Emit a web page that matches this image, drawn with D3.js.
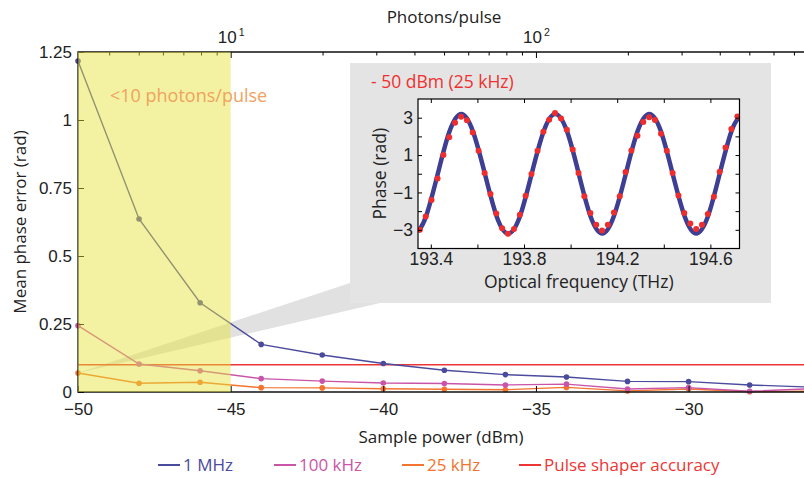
<!DOCTYPE html>
<html>
<head>
<meta charset="utf-8">
<script src="https://cdn.jsdelivr.net/npm/d3@7"></script>
<style>
  body { margin: 0; background: #fff; }
  svg { display: block; font-family: "Open Sans", sans-serif; }
</style>
</head>
<body>
<div id="chart"></div>
<script>
// main plot: mean phase error vs sample power
var power = [-50, -48, -46, -44, -42, -40, -38, -36, -34, -32, -30, -28, -26];
var err1MHz = [1.217, 0.636, 0.328, 0.175, 0.136, 0.105, 0.080, 0.064, 0.055, 0.039, 0.038, 0.026, 0.018];
var err100kHz = [0.244, 0.103, 0.078, 0.049, 0.040, 0.033, 0.031, 0.026, 0.029, 0.011, 0.016, 0.003, 0.012];
var err25kHz = [0.070, 0.032, 0.036, 0.016, 0.015, 0.012, 0.010, 0.0085, 0.017, 0.004, 0.011, 0.001, 0.003];
var shaperPower = [-50, -26];
var shaperErr = [0.1, 0.1];

var yTicks = [0, 0.25, 0.5, 0.75, 1, 1.25];
var xTicks = [-50, -45, -40, -35, -30];
var photonMajor = [10, 100];
var photonMinor = [4, 5, 6, 7, 8, 9, 20, 30, 40, 50, 60, 70, 80, 90, 200, 300, 400, 500, 600, 700];

var seriesNames = ["1 MHz", "100 kHz", "25 kHz", "Pulse shaper accuracy"];
var seriesColors = ["#4b4b9d", "#c955a8", "#f2742e", "#ee3535"];

// inset: phase vs optical frequency at -50 dBm (25 kHz)
var dotFreq = [193.353, 193.378, 193.403, 193.429, 193.454, 193.479, 193.504, 193.530, 193.555, 193.580,
  193.605, 193.631, 193.656, 193.681, 193.706, 193.731, 193.757, 193.782, 193.807, 193.832,
  193.858, 193.883, 193.908, 193.933, 193.959, 193.984, 194.009, 194.034, 194.059, 194.085,
  194.110, 194.135, 194.160, 194.186, 194.211, 194.236, 194.261, 194.287, 194.312, 194.337,
  194.362, 194.388, 194.413, 194.438, 194.463, 194.488, 194.514, 194.539, 194.564, 194.589,
  194.615, 194.640, 194.665, 194.690, 194.716];
var dotPhase = [-3.0, -2.29, -1.41, -0.25, 1.0, 1.95, 2.73, 3.05, 2.86, 2.21,
  1.23, 0.04, -1.09, -2.13, -2.91, -3.21, -2.95, -2.2, -1.18, -0.02,
  1.23, 2.25, 2.89, 3.25, 2.95, 2.36, 1.3, 0.04, -1.21, -2.1,
  -2.73, -3.04, -2.73, -2.07, -1.21, 0.09, 1.25, 2.04, 2.77, 3.02,
  2.88, 2.14, 1.23, 0.04, -1.16, -2.1, -2.66, -2.96, -2.73, -2.16,
  -1.23, 0.11, 1.41, 2.39, 3.07];
var fitFreq = [193.345, 193.380, 193.430, 193.480, 193.531, 193.581, 193.632, 193.682, 193.732, 193.783,
  193.833, 193.884, 193.934, 193.985, 194.035, 194.085, 194.136, 194.186, 194.237, 194.287,
  194.338, 194.388, 194.438, 194.489, 194.539, 194.590, 194.640, 194.690, 194.725];
var fitPhase = [-3.10, -2.26, 0, 2.26, 3.2, 2.26, 0, -2.26, -3.2, -2.26,
  0, 2.26, 3.2, 2.26, 0, -2.26, -3.2, -2.26, 0, 2.26,
  3.2, 2.26, 0, -2.26, -3.2, -2.26, 0, 2.26, 3.05];
var insetXTicks = [193.4, 193.6, 193.8, 194.0, 194.2, 194.4, 194.6];
var insetXLabels = [193.4, 193.8, 194.2, 194.6];
var insetYTicks = [-3, -2, -1, 0, 1, 2, 3];
var insetYLabels = [-3, -1, 1, 3];

var width = 804, height = 478;
var svg = d3.select("#chart").append("svg")
  .attr("width", width)
  .attr("height", height);

var x = d3.scaleLinear().domain([-50, -26]).range([78, 810.7]);
var y = d3.scaleLinear().domain([0, 1.25]).range([392, 52]);
// photons/pulse = 10^((P + 55) / 10)
var xTop = d3.scaleLog()
  .domain([Math.pow(10, (-50 + 55) / 10), Math.pow(10, (-26 + 55) / 10)])
  .range(x.range());

function minus(v) {
  return v < 0 ? "\u2212" + Math.abs(v) : String(v);
}

// grey inset panel and zoom wedge
var panel = { x0: 350, y0: 63, x1: 771, y1: 303 };
var tipX = x(power[0]), tipY = y(err25kHz[0]);
svg.append("path")
  .attr("d", "M" + tipX + "," + tipY + "L" + panel.x0 + "," + (panel.y1 - 20) +
    "L" + panel.x0 + "," + panel.y1 + "L" + (panel.x0 + 30) + "," + panel.y1 + "Z")
  .attr("fill", "#e1e1e1");
svg.append("rect")
  .attr("x", panel.x0).attr("y", panel.y0)
  .attr("width", panel.x1 - panel.x0).attr("height", panel.y1 - panel.y0)
  .attr("fill", "#e4e4e4");

svg.append("text")
  .attr("x", 371).attr("y", 88)
  .attr("fill", "#ee3030")
  .style("font-size", "17.5px")
  .text("- 50 dBm (25 kHz)");

// inset plot
var ix = d3.scaleLinear().domain([193.345, 194.725]).range([418, 739.5]);
var iy = d3.scaleLinear().domain([-4, 4]).range([248.5, 99]);

svg.append("rect")
  .attr("x", ix.range()[0]).attr("y", iy.range()[1])
  .attr("width", ix.range()[1] - ix.range()[0])
  .attr("height", iy.range()[0] - iy.range()[1])
  .attr("fill", "#fff");

svg.append("clipPath").attr("id", "insetClip")
  .append("rect")
  .attr("x", ix.range()[0]).attr("y", iy.range()[1])
  .attr("width", ix.range()[1] - ix.range()[0])
  .attr("height", iy.range()[0] - iy.range()[1]);

var inset = svg.append("g").attr("clip-path", "url(#insetClip)");

var fitLine = d3.line()
  .x((d, i) => ix(fitFreq[i]))
  .y((d) => iy(d))
  .curve(d3.curveNatural);

inset.append("path")
  .datum(fitPhase)
  .attr("d", fitLine)
  .attr("fill", "none")
  .attr("stroke", "#3e3e93")
  .attr("stroke-width", 4.5);

inset.selectAll(".pdot")
  .data(dotPhase)
  .enter()
  .append("circle")
  .attr("class", "pdot")
  .attr("cx", (d, i) => ix(dotFreq[i]))
  .attr("cy", (d) => iy(d))
  .attr("r", 3)
  .attr("fill", "#ee2e2e");

function styleAxis(g, size) {
  g.select(".domain").remove();
  g.selectAll("line").attr("stroke", "#000");
  g.selectAll("text").attr("fill", "#222").style("font-size", size + "px").attr("font-family", null);
}

svg.append("g")
  .attr("transform", "translate(0," + iy.range()[0] + ")")
  .call(d3.axisBottom(ix).tickValues(insetXTicks).tickSize(-4).tickPadding(4)
    .tickFormat((d) => insetXLabels.indexOf(d) >= 0 ? d.toFixed(1) : ""))
  .call((g) => styleAxis(g, 17.5));
svg.append("g")
  .attr("transform", "translate(0," + iy.range()[1] + ")")
  .call(d3.axisTop(ix).tickValues(insetXTicks).tickSize(-4).tickFormat(""))
  .call((g) => styleAxis(g, 17));
svg.append("g")
  .attr("transform", "translate(" + ix.range()[0] + ",0)")
  .call(d3.axisLeft(iy).tickValues(insetYTicks).tickSize(-4).tickPadding(5)
    .tickFormat((d) => insetYLabels.indexOf(d) >= 0 ? minus(d) : ""))
  .call((g) => styleAxis(g, 17.5));
svg.append("g")
  .attr("transform", "translate(" + ix.range()[1] + ",0)")
  .call(d3.axisRight(iy).tickValues(insetYTicks).tickSize(-4).tickFormat(""))
  .call((g) => styleAxis(g, 17));

svg.append("rect")
  .attr("x", ix.range()[0]).attr("y", iy.range()[1])
  .attr("width", ix.range()[1] - ix.range()[0])
  .attr("height", iy.range()[0] - iy.range()[1])
  .attr("fill", "none")
  .attr("stroke", "#000")
  .attr("stroke-width", 1.2);

svg.append("text")
  .attr("transform", "translate(386," + ((iy.range()[0] + iy.range()[1]) / 2) + ") rotate(-90)")
  .attr("text-anchor", "middle")
  .attr("fill", "#222")
  .style("font-size", "17.5px")
  .text("Phase (rad)");

svg.append("text")
  .attr("x", (ix.range()[0] + ix.range()[1]) / 2)
  .attr("y", 288)
  .attr("text-anchor", "middle")
  .attr("fill", "#222")
  .style("font-size", "17.5px")
  .text("Optical frequency (THz)");

// main series
var mainLine = d3.line()
  .x((d, i) => x(power[i]))
  .y((d) => y(d));

var series = [err1MHz, err100kHz, err25kHz];

svg.append("path")
  .datum(shaperErr)
  .attr("d", d3.line().x((d, i) => x(shaperPower[i])).y((d) => y(d)))
  .attr("fill", "none")
  .attr("stroke", seriesColors[3])
  .attr("stroke-width", 1.4);

series.slice().reverse().forEach(function (vals, k) {
  var col = seriesColors[series.length - 1 - k];
  svg.append("path")
    .datum(vals)
    .attr("d", mainLine)
    .attr("fill", "none")
    .attr("stroke", col)
    .attr("stroke-width", 1.4);
  svg.selectAll(null)
    .data(vals)
    .enter()
    .append("circle")
    .attr("cx", (d, i) => x(power[i]))
    .attr("cy", (d) => y(d))
    .attr("r", 2.8)
    .attr("fill", col);
});

// main axes (ticks inward, box)
svg.append("g")
  .attr("transform", "translate(" + x.range()[0] + ",0)")
  .call(d3.axisLeft(y).tickValues(yTicks).tickSize(-6).tickPadding(6).tickFormat((d) => String(d)))
  .call((g) => styleAxis(g, 17));
svg.append("g")
  .attr("transform", "translate(" + x.range()[1] + ",0)")
  .call(d3.axisRight(y).tickValues(yTicks).tickSize(-6).tickFormat(""))
  .call((g) => styleAxis(g, 17));
svg.append("g")
  .attr("transform", "translate(0," + y.range()[0] + ")")
  .call(d3.axisBottom(x).tickValues(xTicks).tickSize(-6).tickPadding(11).tickFormat(minus))
  .call((g) => styleAxis(g, 17));
svg.append("g")
  .attr("transform", "translate(0," + y.range()[1] + ")")
  .call(d3.axisTop(xTop).tickValues(photonMinor).tickSize(-3.5).tickFormat(""))
  .call((g) => styleAxis(g, 17));
var topMajor = svg.append("g")
  .attr("transform", "translate(0," + y.range()[1] + ")")
  .call(d3.axisTop(xTop).tickValues(photonMajor).tickSize(-6).tickPadding(7).tickFormat(""))
  .call((g) => styleAxis(g, 17));
topMajor.selectAll(".tick")
  .append("text")
  .attr("y", -9)
  .attr("text-anchor", "middle")
  .attr("fill", "#222")
  .style("font-size", "17px")
  .text("10")
  .append("tspan")
  .attr("dy", "-0.65em")
  .attr("dx", "2")
  .style("font-size", "10.5px")
  .text((d) => Math.round(Math.log10(d)));

svg.append("path")
  .attr("d", "M" + x.range()[0] + "," + y.range()[0] + "V" + y.range()[1] + "H" + x.range()[1] +
    "V" + y.range()[0] + "Z")
  .attr("fill", "none")
  .attr("stroke", "#111")
  .attr("stroke-width", 1.3);

// axis titles
svg.append("text")
  .attr("x", (x(-50) + 804) / 2).attr("y", 443)
  .attr("text-anchor", "middle")
  .attr("fill", "#222")
  .style("font-size", "17px")
  .text("Sample power (dBm)");
svg.append("text")
  .attr("x", 444).attr("y", 23)
  .attr("text-anchor", "middle")
  .attr("fill", "#222")
  .style("font-size", "17px")
  .text("Photons/pulse");
svg.append("text")
  .attr("transform", "translate(26," + ((y.range()[0] + y.range()[1]) / 2) + ") rotate(-90)")
  .attr("text-anchor", "middle")
  .attr("fill", "#222")
  .style("font-size", "17px")
  .text("Mean phase error (rad)");

// <10 photons/pulse highlight (drawn over everything)
svg.append("rect")
  .attr("x", x(-50)).attr("y", y(1.25))
  .attr("width", x(-45) - x(-50))
  .attr("height", y(0) - y(1.25))
  .attr("fill", "#e6e43c")
  .attr("opacity", 0.47);
svg.append("text")
  .attr("x", 110).attr("y", 102)
  .attr("fill", "#f0a25e")
  .style("font-size", "18px")
  .text("<10 photons/pulse");

// legend
var legendX = [158, 274, 402, 519];
var legend = svg.append("g");
seriesNames.forEach(function (name, i) {
  legend.append("line")
    .attr("x1", legendX[i]).attr("x2", legendX[i] + 22)
    .attr("y1", 465).attr("y2", 465)
    .attr("stroke", seriesColors[i])
    .attr("stroke-width", 2);
  legend.append("text")
    .attr("x", legendX[i] + 25).attr("y", 471)
    .attr("fill", seriesColors[i])
    .style("font-size", "17px")
    .text(name);
});
</script>
</body>
</html>
